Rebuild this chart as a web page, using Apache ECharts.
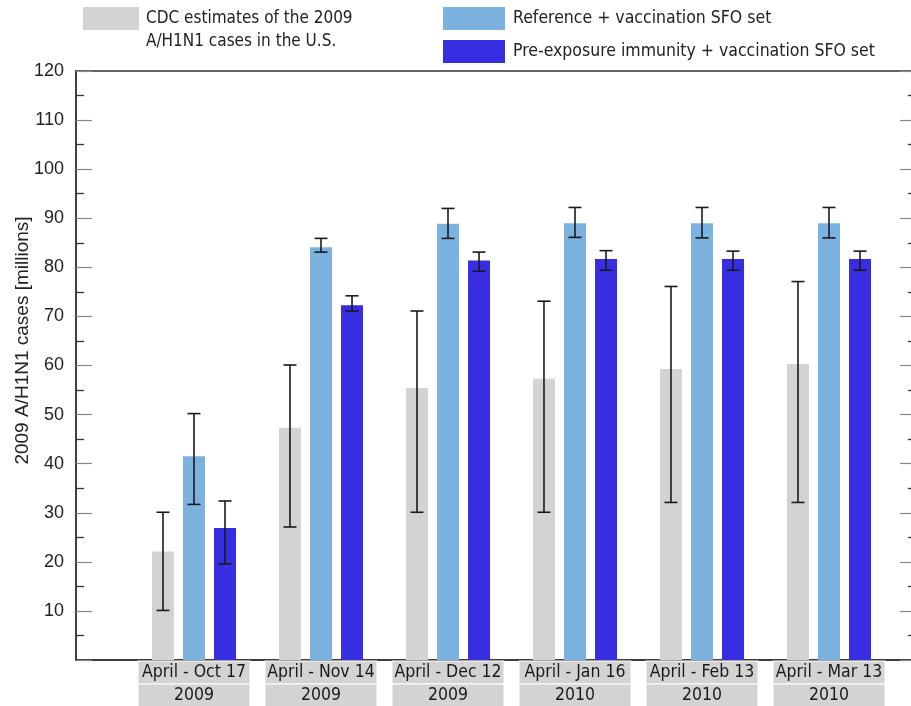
<!DOCTYPE html>
<html>
<head>
<meta charset="utf-8">
<script src="https://cdn.jsdelivr.net/npm/echarts@6/dist/echarts.min.js"></script>
<style>
html,body{margin:0;padding:0;background:#fff;}
#chart{width:911px;height:706px;}
</style>
</head>
<body>
<div id="chart"></div>
<script>
// ---- data ----
var categoriesTop = ['April - Oct 17', 'April - Nov 14', 'April - Dec 12', 'April - Jan 16', 'April - Feb 13', 'April - Mar 13'];
var categoriesYear = ['2009', '2009', '2009', '2010', '2010', '2010'];
var seriesNames = ['CDC estimates of the 2009\nA/H1N1 cases in the U.S.', 'Reference + vaccination SFO set', 'Pre-exposure immunity + vaccination SFO set'];

var cdcValues = [22.1, 47.3, 55.4, 57.3, 59.3, 60.3];
var cdcLow    = [10.1, 27.1, 30.1, 30.1, 32.1, 32.1];
var cdcHigh   = [30.1, 60.1, 71.1, 73.1, 76.1, 77.1];

var refValues = [41.5, 84.1, 88.9, 89.0, 89.0, 89.0];
var refLow    = [31.7, 83.1, 85.9, 86.1, 86.0, 86.0];
var refHigh   = [50.2, 85.9, 92.0, 92.2, 92.2, 92.2];

var preValues = [26.9, 72.3, 81.4, 81.7, 81.7, 81.7];
var preLow    = [19.6, 71.1, 79.2, 79.4, 79.4, 79.4];
var preHigh   = [32.4, 74.2, 83.1, 83.4, 83.3, 83.3];

var yTicksMin = 0, yTicksMax = 120, yTicksStep = 10;

// ---- style ----
var COLORS = ['#d3d3d3', '#7bb2df', '#372de1'];
var BAR_W = 22, BAR_GAP = 0.41;
var NARROW = "'Liberation Sans Narrow', 'DejaVu Sans Condensed', 'Liberation Sans', sans-serif";
var SANS = "'Liberation Sans', Arial, sans-serif";
var FRAME = '#333';
// legend swatch drawn in the upper half of a two-line-high item
var HALF_SWATCH = 'path://M0,0H56V23H0Z M0,45.95H0.05V46H0Z';

var categories = categoriesTop.map(function (c, i) { return c + '\n' + categoriesYear[i]; });

function errData(low, high) {
  return low.map(function (l, i) { return [i, l, high[i]]; });
}
function errSeries(name, low, high, k) {
  return {
    type: 'custom', name: name + '_err', xAxisIndex: 1, yAxisIndex: 2, z: 10,
    silent: true,
    data: errData(low, high),
    renderItem: function (params, api) {
      var off = (k - 1) * BAR_W * (1 + BAR_GAP);
      var p1 = api.coord([api.value(0), api.value(1)]);
      var p2 = api.coord([api.value(0), api.value(2)]);
      var x = p1[0] + off, cap = 6.5;
      var st = { stroke: '#1a1a1a', lineWidth: 1.6 };
      return { type: 'group', children: [
        { type: 'line', shape: { x1: x, y1: p1[1], x2: x, y2: p2[1] }, style: st },
        { type: 'line', shape: { x1: x - cap, y1: p1[1], x2: x + cap, y2: p1[1] }, style: st },
        { type: 'line', shape: { x1: x - cap, y1: p2[1], x2: x + cap, y2: p2[1] }, style: st }
      ]};
    }
  };
}

var yAxisCommon = {
  gridIndex: 0, type: 'value', min: yTicksMin, max: yTicksMax, interval: yTicksStep,
  axisLine: { show: true, lineStyle: { color: FRAME, width: 1.5 } },
  axisTick: { show: true, inside: true, length: 16, lineStyle: { color: '#888', width: 1.2 } },
  minorTick: { show: true, splitNumber: 2, length: 8, lineStyle: { color: '#333', width: 1.3 } },
  splitLine: { show: false }
};

var chart = echarts.init(document.getElementById('chart'));
var option = {
  animation: false,
  backgroundColor: '#fff',
  grid: [
    { left: 76, right: -5, top: 71, bottom: 46, outerBoundsMode: 'none', containLabel: false,
      show: true, borderColor: FRAME, borderWidth: 1.5, backgroundColor: 'transparent' },
    { left: 130.5, right: 18.5, top: 71, bottom: 46, outerBoundsMode: 'none', containLabel: false },
    { left: 153, right: -4, top: 71, bottom: 46, outerBoundsMode: 'none', containLabel: false }
  ],
  legend: [
    {
      data: [{ name: seriesNames[0], icon: HALF_SWATCH }],
      left: 83, top: 7, padding: 0, itemWidth: 56, itemHeight: 46, selectedMode: false,
      textStyle: { fontFamily: NARROW, fontSize: 17, color: '#222', lineHeight: 23, padding: [0, 0, 0, 2] }
    },
    {
      data: [{ name: seriesNames[1], icon: 'rect' }, { name: seriesNames[2], icon: 'rect' }],
      orient: 'vertical', left: 443, top: 7, padding: 0, itemGap: 10, itemWidth: 62, itemHeight: 23, selectedMode: false,
      textStyle: { fontFamily: NARROW, fontSize: 17.5, color: '#222', padding: [0, 0, 0, 3] }
    }
  ],
  xAxis: [
    { gridIndex: 0, type: 'value', position: 'bottom', min: 0, max: 1,
      axisLine: { show: true, lineStyle: { color: FRAME, width: 1.5 } },
      axisTick: { show: false }, axisLabel: { show: false }, splitLine: { show: false } },
    { gridIndex: 1, type: 'category', data: categories,
      axisLine: { show: false }, axisTick: { show: false }, splitLine: { show: false },
      axisLabel: {
        interval: 0, margin: 1,
        formatter: function (v) { var s = v.split('\n'); return '{a|' + s[0] + '}\n{a|' + s[1] + '}'; },
        rich: {
          a: { width: 111, height: 22, lineHeight: 23, align: 'center', backgroundColor: '#d3d3d3',
               borderColor: '#fff', borderWidth: 1, fontFamily: NARROW, fontSize: 17.5, color: '#1a1a1a' }
        }
      } },
    { gridIndex: 2, type: 'category', position: 'top', data: categoriesTop,
      axisLine: { show: false },
      axisTick: { show: true, inside: true, length: 4, interval: 0, lineStyle: { color: FRAME, width: 1.2 } },
      axisLabel: { show: false }, splitLine: { show: false } }
  ],
  yAxis: [
    Object.assign({}, yAxisCommon, {
      position: 'left',
      name: '2009 A/H1N1 cases [millions]', nameLocation: 'middle', nameRotate: 90, nameGap: 44,
      nameMoveOverlap: false,
      nameTextStyle: { fontFamily: SANS, fontSize: 19, color: '#222', padding: [0, 0, 0, 50] },
      axisLabel: { showMinLabel: false, margin: 12, fontFamily: SANS, fontSize: 18, color: '#222' }
    }),
    Object.assign({}, yAxisCommon, { position: 'right', axisLabel: { show: false } }),
    { gridIndex: 1, type: 'value', min: yTicksMin, max: yTicksMax, show: false },
    { gridIndex: 2, type: 'value', min: yTicksMin, max: yTicksMax, show: false }
  ],
  series: [
    { type: 'bar', name: seriesNames[0], xAxisIndex: 1, yAxisIndex: 2, data: cdcValues,
      barWidth: BAR_W, barGap: (BAR_GAP * 100) + '%', itemStyle: { color: COLORS[0] } },
    { type: 'bar', name: seriesNames[1], xAxisIndex: 1, yAxisIndex: 2, data: refValues,
      barWidth: BAR_W, barGap: (BAR_GAP * 100) + '%', itemStyle: { color: COLORS[1] } },
    { type: 'bar', name: seriesNames[2], xAxisIndex: 1, yAxisIndex: 2, data: preValues,
      barWidth: BAR_W, barGap: (BAR_GAP * 100) + '%', itemStyle: { color: COLORS[2] } },
    errSeries('cdc', cdcLow, cdcHigh, 0),
    errSeries('ref', refLow, refHigh, 1),
    errSeries('pre', preLow, preHigh, 2)
  ]
};
chart.setOption(option);
</script>
</body>
</html>
